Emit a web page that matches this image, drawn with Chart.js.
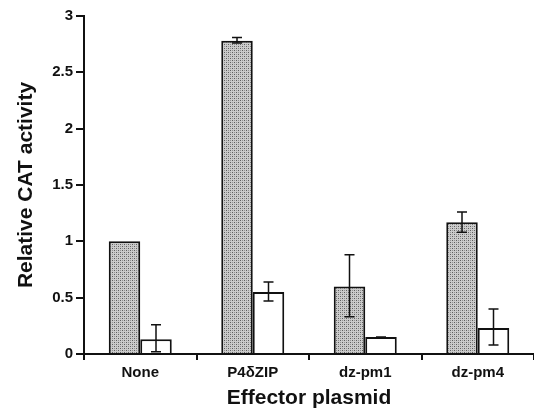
<!DOCTYPE html>
<html lang="en">
<head>
  <meta charset="UTF-8">
  <title>Relative CAT activity</title>
  <script src="https://cdn.jsdelivr.net/npm/chart.js"></script>
  <style>
    body {
      margin: 0;
      background: white;
    }
    canvas {
      display: block;
    }
  </style>
</head>
<body>

<canvas id="grafico" width="534" height="417"></canvas>

<script>
  const categories = ["None", "P4\u03b4ZIP", "dz-pm1", "dz-pm4"];

  const grayValues = [1.0, 2.78, 0.6, 1.17];
  const grayLow    = [null, 2.76, 0.33, 1.08];
  const grayHigh   = [null, 2.81, 0.88, 1.26];

  const whiteValues = [0.13, 0.55, 0.15, 0.23];
  const whiteLow    = [0.02, 0.47, 0.14, 0.08];
  const whiteHigh   = [0.26, 0.64, 0.15, 0.40];

  const fontFamily = "'Liberation Sans', Arial, sans-serif";

  // stippled grey fill
  function stipple() {
    const c = document.createElement("canvas");
    c.width = 4;
    c.height = 4;
    const g = c.getContext("2d");
    g.fillStyle = "#cbcbcb";
    g.fillRect(0, 0, 4, 4);
    g.fillStyle = "#5e5e5e";
    g.fillRect(0, 0, 1, 1);
    g.fillRect(2, 2, 1, 1);
    g.fillStyle = "#939393";
    g.fillRect(2, 0, 1, 1);
    g.fillRect(0, 2, 1, 1);
    return g.createPattern(c, "repeat");
  }

  const errorBars = {
    id: "errorBars",
    afterDatasetsDraw(chart) {
      const ctx = chart.ctx;
      const y = chart.scales.y;
      const sets = [[grayLow, grayHigh], [whiteLow, whiteHigh]];
      ctx.save();
      ctx.strokeStyle = "#111";
      ctx.lineWidth = 1.5;
      sets.forEach(([low, high], i) => {
        const meta = chart.getDatasetMeta(i);
        meta.data.forEach((bar, j) => {
          if (low[j] == null) return;
          const x = bar.x;
          const y1 = y.getPixelForValue(low[j]);
          const y2 = y.getPixelForValue(high[j]);
          ctx.beginPath();
          ctx.moveTo(x, y1); ctx.lineTo(x, y2);
          ctx.moveTo(x - 5, y1); ctx.lineTo(x + 5, y1);
          ctx.moveTo(x - 5, y2); ctx.lineTo(x + 5, y2);
          ctx.stroke();
        });
      });
      ctx.restore();
    }
  };

  const ctx = document.getElementById("grafico").getContext("2d");

  new Chart(ctx, {
    type: "bar",
    data: {
      labels: categories,
      datasets: [
        {
          data: grayValues,
          backgroundColor: stipple(),
          borderColor: "#111",
          borderWidth: 2
        },
        {
          data: whiteValues,
          backgroundColor: "#ffffff",
          borderColor: "#111",
          borderWidth: 2
        }
      ]
    },
    options: {
      responsive: false,
      animation: false,
      layout: { padding: { top: 16, right: 0, left: 10, bottom: 2 } },
      datasets: {
        bar: { categoryPercentage: 0.56, barPercentage: 1.0 }
      },
      scales: {
        x: {
          afterFit: scale => { scale.height = 61; },
          grid: {
            offset: true,
            drawOnChartArea: false,
            tickLength: 6,
            color: "#111",
            lineWidth: 2
          },
          border: { color: "#111", width: 2 },
          ticks: {
            color: "#111",
            padding: 4,
            font: { family: fontFamily, size: 15, weight: "bold" }
          },
          title: {
            display: true,
            text: "Effector plasmid",
            color: "#111",
            padding: { top: 7 },
            font: { family: fontFamily, size: 21, weight: "bold" }
          }
        },
        y: {
          min: 0,
          max: 3,
          afterFit: scale => { scale.width = 74; },
          grid: {
            drawOnChartArea: false,
            tickLength: 8,
            color: "#111",
            lineWidth: 2
          },
          border: { color: "#111", width: 2 },
          ticks: {
            stepSize: 0.5,
            color: "#111",
            padding: 3,
            callback: v => String(v),
            font: { family: fontFamily, size: 15, weight: "bold" }
          },
          title: {
            display: true,
            text: "Relative CAT activity",
            color: "#111",
            padding: { bottom: 4 },
            font: { family: fontFamily, size: 21, weight: "bold" }
          }
        }
      },
      plugins: {
        legend: { display: false },
        tooltip: { enabled: false }
      }
    },
    plugins: [errorBars]
  });
</script>
</body>
</html>
